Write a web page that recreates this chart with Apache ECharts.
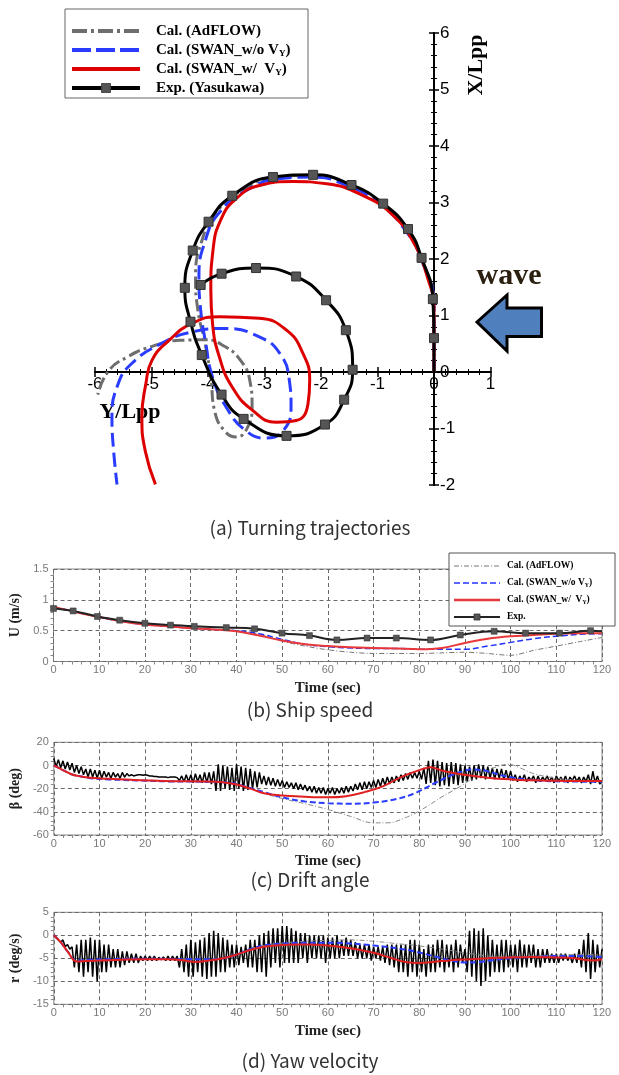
<!DOCTYPE html>
<html><head><meta charset="utf-8">
<script src="https://cdn.jsdelivr.net/npm/echarts/dist/echarts.min.js"></script>
<style>html,body{margin:0;padding:0;background:#fff}#c{width:619px;height:1075px}</style>
</head><body><div id="c"></div><script>
// ---------- DATA ----------
// Panel (a): trajectories [Y/Lpp, X/Lpp]
const trajExp = [[0,0],[0,0.6],[-0.02,1.29],[-0.22,2.02],[-0.46,2.53],[-0.90,2.98],[-1.46,3.31],[-2.14,3.49],[-2.85,3.45],[-3.57,3.12],[-3.99,2.66],[-4.27,2.15],[-4.41,1.49],[-4.31,0.89],[-4.11,0.30],[-3.76,-0.40],[-3.37,-0.83],[-2.61,-1.13],[-1.93,-0.93],[-1.59,-0.49],[-1.44,0.04],[-1.56,0.74],[-1.91,1.27],[-2.44,1.69],[-3.15,1.84],[-3.76,1.74],[-4.13,1.54]];
const trajSwanW = [[0,0],[0,1.10],[-0.12,1.69],[-0.36,2.29],[-0.71,2.76],[-1.19,3.09],[-1.90,3.33],[-2.50,3.37],[-3.09,3.30],[-3.51,3.06],[-3.77,2.70],[-3.91,2.17],[-3.95,1.46],[-3.92,0.86],[-3.80,0.27],[-3.57,-0.27],[-3.21,-0.68],[-2.79,-0.89],[-2.44,-0.86],[-2.23,-0.56],[-2.20,-0.15],[-2.32,0.33],[-2.61,0.74],[-3.09,0.95],[-3.80,0.98],[-4.28,0.86],[-4.69,0.56],[-4.99,0.21],[-5.10,-0.21],[-5.17,-0.80],[-5.11,-1.40],[-4.93,-1.99]];
const trajSwanWo = [[0,0],[0,1.16],[-0.21,1.96],[-0.48,2.47],[-0.95,2.97],[-1.54,3.30],[-2.14,3.45],[-2.73,3.42],[-3.33,3.21],[-3.80,2.82],[-4.04,2.35],[-4.16,1.69],[-4.13,1.10],[-4.04,0.51],[-3.92,-0.09],[-3.68,-0.62],[-3.33,-1.04],[-2.97,-1.17],[-2.67,-1.04],[-2.53,-0.62],[-2.56,-0.15],[-2.73,0.33],[-3.09,0.62],[-3.68,0.77],[-4.28,0.71],[-4.87,0.48],[-5.35,0.15],[-5.59,-0.21],[-5.70,-0.80],[-5.67,-1.40],[-5.61,-1.99]];
const trajAdflow = [[0,0],[0,1.2],[-0.22,1.98],[-0.48,2.5],[-0.95,3.0],[-1.54,3.34],[-2.14,3.48],[-2.75,3.45],[-3.38,3.23],[-3.86,2.82],[-4.10,2.35],[-4.22,1.69],[-4.18,1.10],[-4.05,0.50],[-3.95,-0.10],[-3.88,-0.70],[-3.70,-1.05],[-3.50,-1.15],[-3.30,-0.98],[-3.22,-0.60],[-3.26,-0.15],[-3.42,0.20],[-3.70,0.45],[-4.05,0.57],[-4.50,0.56],[-5.00,0.45],[-5.42,0.27],[-5.76,0.02],[-5.95,-0.40]];

// Panel (b): ship speed U [time, U]
const uExp = [[0,0.86],[4.3,0.82],[9.6,0.73],[14.5,0.67],[20,0.62],[25.6,0.59],[30.8,0.57],[37.8,0.55],[44,0.53],[50,0.46],[56,0.42],[62,0.35],[68.6,0.38],[75,0.38],[82.5,0.35],[89,0.43],[96.4,0.49],[103.3,0.46],[110.7,0.46],[117.5,0.5],[120,0.49]];
const uSwanW = [[0,0.89],[5,0.8],[10,0.72],[15,0.65],[20,0.6],[25,0.57],[30,0.54],[35,0.52],[40,0.49],[45,0.42],[50,0.34],[55,0.28],[60,0.25],[65,0.23],[70,0.22],[75,0.21],[80,0.2],[85,0.22],[90,0.3],[95,0.37],[100,0.41],[105,0.43],[110,0.45],[115,0.46],[120,0.46]];
const uSwanWo = [[0,0.89],[5,0.8],[10,0.72],[15,0.65],[20,0.6],[25,0.57],[30,0.54],[35,0.52],[40,0.5],[45,0.45],[50,0.36],[55,0.28],[60,0.24],[65,0.22],[70,0.21],[75,0.21],[80,0.2],[85,0.2],[90,0.2],[95,0.25],[100,0.31],[105,0.37],[110,0.41],[115,0.44],[120,0.45]];
const uAdflow = [[0,0.88],[5,0.8],[10,0.72],[15,0.65],[20,0.6],[25,0.57],[30,0.54],[35,0.52],[40,0.5],[45,0.44],[50,0.33],[55,0.25],[60,0.19],[65,0.15],[70,0.13],[75,0.13],[80,0.13],[85,0.14],[90,0.15],[95,0.13],[100,0.1],[105,0.18],[110,0.25],[115,0.32],[120,0.39]];

// Panel (c): drift angle beta
const EXP_DT = 0.5; // sampling step of the measured records (s)
const betaExp = [6,-1,5,-2,4,-3,3,-4,2,-6,0,-7,-1,-8,-3,-10,-3,-10,-4,-11,-4,
 -11,-5,-10,-6,-11,-6,-10,-7,-11,-6,-10,-7,-9,-8,
 -9,-8.5,-8,-8,-8.5,-8,-8.5,-9,-9,-9.5,-9.5,-10,-10,-10,-10,-10.5,-10,-10,-10,-10.5,
 -13,-9,-14,-8,-14,-8,-15,-7,-14,-8,-15,-6,-15,-6,-16,-5,
 -22,1,-22,0,-20,-1,-21,-2,-22,1,-20,-1,-22,-2,-21,-3,-20,-5,-19,-6,
 -16,-9,-17,-10,-17,-11,-18,-12,-18,-13,-19,-14,-19,-15,-20,-15,-21,-16,-21,-17,-22,-18,-23,-18,-24,-19,
 -24,-19,-25,-20,-24,-19,-25,-20,-24,-19,-24,-18,-23,-18,
 -22,-16,-21,-15,-21,-14,-20,-14,-19,-13,-19,-12,-18,-11,-17,-10,-16,-10,-15,-9,-14,-8,-13,-7,-12,-6,-11,-6,-11,-5,
 -12,-2,-16,4,-15,5,-17,4,-18,3,-17,2,-18,3,-16,2,-17,1,-15,0,-14,-1,-13,0,
 -12,1,-11,0,-12,-1,-11,-2,-12,-3,-11,-3,-12,-4,-12,-5,
 -13,-8,-14,-9,-13,-8,-14,-10,-13,-9,-15,-9,-14,-10,-13,-9,-14,-10,-15,-9,-13,-10,-14,-9,-15,-10,-13,-9,-14,-10,-15,-10,-14,-8,-16,-5,-15,-9,-16,-14];
const betaSwanW = [[0,0],[2,-4],[4,-7.8],[6,-9.5],[8,-10.5],[12,-11.5],[19,-12.8],[26,-13.6],[33,-13.8],[37,-14.5],[40,-16.5],[43,-20],[46,-24],[50,-26],[55,-27],[60,-27.5],[64,-26.5],[68,-23],[72,-18],[76,-10],[80,-4],[82.5,-1.5],[85,-4.5],[89,-7.5],[95,-10.5],[100,-12],[105,-12.8],[110,-13.2],[115,-13.5],[120,-13.5]];
const betaSwanWo = [[0,0],[2,-4],[4,-7.8],[6,-9.5],[8,-11],[12,-12],[19,-13],[26,-13.8],[33,-14],[37,-14.5],[40,-16],[43,-19.5],[46,-23],[50,-27.5],[55,-31],[60,-32.5],[65,-33],[70,-32],[75,-29],[79,-24],[83,-16],[87,-8.5],[90,-4.5],[92,-3.5],[95,-5],[98,-8.5],[102,-11.5],[106,-13],[112,-13.8],[120,-14]];
const betaAdflow = [[0,0],[2,-4],[4,-7.5],[6,-9.5],[8,-10.5],[12,-11.5],[19,-12.8],[26,-13.6],[33,-14],[37,-14.5],[40,-16],[43,-19.5],[46,-24],[50,-28.5],[55,-33],[60,-38],[65,-44],[70,-49.5],[73,-49.5],[77,-45],[81,-37],[85,-27],[89,-18],[93,-8],[97,-1],[99.5,1],[102,-2],[105,-7],[110,-11],[115,-13],[120,-13.5]];

// Panel (d): yaw velocity r
const rExp = [0,-0.5,-1,-1.5,-1,-2.5,-2,-3,-2.5,
 -7,-2,-8,-1,-9,-1,-8,-0.5,-9,-1,-10,-1,-8,-2,-8,-2,-7,-3,
 -7,-3,-7,-3.5,-6.5,-3.5,-6,-4,-6,-4,-6,-4.5,-5.5,-4.5,
 -5.5,-4.5,-5.5,-4.5,-5.5,-4.8,-5.3,-4.7,-5.5,-4.5,-5.5,-4.5,-5.5,-4.5,
 -7,-3,-8,-2,-9,-1,-9,-1.5,-8,-1,-9,-0.5,-9.5,0.5,-9,1,-9,0.5,-8,-0.5,-8,-1,
 -7,-2,-7,-2,-6.5,-2.5,-6,-2,-7,-1,-7,-1,-8,0,
 -8,0.5,-9,1,-7,1.5,-6,1.5,-7,2,-6,2,-6,1.5,-6,1,-6,0.5,-5,0.5,-6,0,-5,0,
 -5,0,-5,0,-6,-0.5,-5,-0.5,-5,0,-5,-1,-4.5,-0.5,-4.5,-1,
 -4.5,-1.5,-5,-2,-5,-2,-5,-2,-5.5,-2.5,-5,-2.5,-5.5,-2.5,-6,-2,-6.5,-2,-7,-2,
 -8,-2,-8,-2,-9,-1,-8,-1,-9,-2,-8,-3,-9,-2,-8,-2,-8,-1,-7,-1,-8,-2,-7,-2,-8,-1,-7,-2,-6,-3,
 -8,1,-9,1.5,-10,1,-11,1.5,-10,0,-9,-1,-8,-2,
 -8,-1,-8,-1,-7,-2,-7,-2,-8,-1,-7,-2,-7,-2,-6,-2,-7,-3,-7,-3,-6,-3,-6,-4,-6,-4,
 -6,-4,-5.5,-4,-5.5,-4.5,-6,-4,-6,-3,-7,-1,-8,0.5,-9.5,-1,-8,-2,-7,-3];
const rSwanW = [[0,0],[1.5,-1.5],[3,-3.5],[5,-5.7],[7,-5.6],[10,-5.5],[15,-5.3],[20,-5.2],[25,-5.2],[28,-5.4],[31,-5.8],[34,-5.5],[37,-5],[40,-4.2],[43,-3.2],[46,-2.5],[50,-2.1],[55,-2],[60,-2.2],[65,-2.8],[70,-3.8],[74,-5],[77,-5.8],[80,-6],[83,-5.8],[87,-5.4],[91,-5.2],[95,-5],[100,-4.8],[105,-4.7],[110,-4.8],[114,-5],[118,-5.5],[120,-5.2]];
const rSwanWo = [[0,0],[1.5,-1.5],[3,-3.5],[5,-5.5],[8,-5.3],[12,-5.2],[20,-5.1],[30,-5.2],[34,-5.2],[37,-5],[40,-4.2],[43,-3],[46,-2.2],[50,-1.8],[55,-1.6],[60,-1.6],[65,-1.8],[70,-2.2],[75,-2.8],[79,-3.5],[83,-4.5],[87,-5.5],[90,-5.9],[93,-5.8],[96,-5.4],[100,-5],[105,-4.7],[110,-4.5],[115,-4.5],[120,-4.8]];
const rAdflow = [[0,0],[1.5,-1.5],[3,-3.5],[5,-5.5],[10,-5.3],[20,-5.2],[30,-5.2],[37,-5],[40,-4.2],[43,-3],[46,-2.2],[50,-1.7],[55,-1.3],[60,-1.1],[65,-1],[70,-1.3],[75,-1.8],[80,-2.3],[85,-3],[90,-3.8],[95,-4.5],[100,-4.7],[105,-4.5],[110,-4.3],[115,-4.2],[120,-4.3]];

// Labels
const legendA = ['Cal. (AdFLOW)', 'Cal. (SWAN_w/o V{s|Y})', 'Cal. (SWAN_w/  V{s|Y})', 'Exp. (Yasukawa)'];
const legendB = ['Cal. (AdFLOW)', 'Cal. (SWAN_w/o V{s|Y})', 'Cal. (SWAN_w/  V{s|Y})', 'Exp.'];
const captions = ['(a) Turning trajectories', '(b) Ship speed', '(c) Drift angle', '(d) Yaw velocity'];

// ---------- CHART ----------
const SERIF = 'Liberation Serif';
const SANS = 'Liberation Sans';
const chart = echarts.init(document.getElementById('c'), null, {renderer: 'canvas'});

const GRAY = '#6e6e6e', BLUE = '#2a3cff', RED = '#dd0000', BLACK = '#000';
const DASH_A = {gray: [12, 4, 3, 4], blue: [14, 6]};

// panel (a) geometry: origin (434,372), 56.5 px per unit
const A = {left: 95, top: 33, width: 395.5, height: 452, x0: 434, y0: 372};

const hidden = {show: false};
function dummy(gi, isX) { return {type: 'value', gridIndex: gi, show: false, min: 0, max: 1, axisLine: {onZero: false}}; }
function visAxis(gi, isX, pos, showLabel) {
  return {type: 'value', gridIndex: gi, position: pos,
    min: isX ? -6 : -2, max: isX ? 1 : 6, interval: 1,
    axisLine: {show: true, onZero: false, lineStyle: {color: '#000', width: 2}},
    axisTick: {show: true, length: 5, lineStyle: {color: '#000', width: 1.5}},
    minorTick: {show: true, splitNumber: 5, length: 3, lineStyle: {color: '#000', width: 1}},
    splitLine: hidden,
    axisLabel: showLabel ? {show: true, color: '#000', fontFamily: SANS, fontSize: 17, margin: isX ? 4 : 6, inside: !isX} : hidden};
}

// grids: 0 data(a), 1-3 panels, 4 x-axis below zero line, 5 x-axis above, 6 y-axis left side, 7 y-axis right side
const grids = [{left: A.left, top: A.top, width: A.width, height: A.height, show: false}];
const panelGrids = [
  {left: 53.5, top: 569, width: 548.5, height: 92.5},
  {left: 53.5, top: 742.3, width: 548.5, height: 92.7},
  {left: 53.5, top: 912.3, width: 548.5, height: 92}
];
panelGrids.forEach(g => grids.push(Object.assign({show: true, borderColor: '#8a8a8a', borderWidth: 1}, g)));
grids.push({left: A.left, top: A.top, width: A.width, height: A.y0 - A.top, show: false});           // 4
grids.push({left: A.left, top: A.y0, width: A.width, height: A.top + A.height - A.y0, show: false}); // 5
grids.push({left: A.x0, top: A.top, width: A.left + A.width - A.x0, height: A.height, show: false}); // 6
grids.push({left: A.left, top: A.top, width: A.x0 - A.left, height: A.height, show: false});         // 7

const xAxes = [{type: 'value', gridIndex: 0, min: -6, max: 1, show: false, axisLine: {onZero: false}}];
const yAxes = [{type: 'value', gridIndex: 0, min: -2, max: 6, show: false, axisLine: {onZero: false}}];
const yRanges = [[0, 1.5, 0.5, 'U (m/s)'], [-60, 20, 20, 'β (deg)'], [-15, 5, 5, 'r (deg/s)']];
const dashed = {show: true, lineStyle: {color: '#6a6a6a', type: [4, 3], width: 1}};
for (let k = 0; k < 3; k++) {
  xAxes.push({type: 'value', gridIndex: k + 1, min: 0, max: 120, interval: 10,
    axisLine: {show: false, onZero: false}, axisTick: {show: false},
    minorTick: {show: true, splitNumber: 5, length: 3, lineStyle: {color: '#888'}},
    splitLine: dashed,
    axisLabel: {color: '#7a7a7a', fontFamily: SANS, fontSize: 11, margin: 3},
    name: 'Time (sec)', nameLocation: 'middle', nameGap: 19,
    nameTextStyle: {fontFamily: SERIF, fontWeight: 'bold', fontSize: 15, color: '#222'}});
  const yr = yRanges[k];
  yAxes.push({type: 'value', gridIndex: k + 1, min: yr[0], max: yr[1], interval: yr[2],
    axisLine: {show: false, onZero: false}, axisTick: {show: false},
    minorTick: {show: true, splitNumber: 5, length: 3, lineStyle: {color: '#888'}},
    splitLine: dashed,
    axisLabel: {color: '#7a7a7a', fontFamily: SANS, fontSize: 11, margin: 5},
    name: yr[3], nameLocation: 'middle', nameGap: 28, nameRotate: 90,
    nameTextStyle: {fontFamily: SERIF, fontWeight: 'bold', fontSize: 14, color: '#222'}});
}
// axis lines of panel (a), crossing at the origin
xAxes.push(visAxis(4, true, 'bottom', true));  yAxes.push(dummy(4));
xAxes.push(visAxis(5, true, 'top', false));    yAxes.push(dummy(5));
xAxes.push(dummy(6));                          yAxes.push(visAxis(6, false, 'left', true));
xAxes.push(dummy(7));                          yAxes.push(visAxis(7, false, 'right', false));

function ln(name, data, xi, color, width, type, smooth, extra) {
  return Object.assign({name, type: 'line', xAxisIndex: xi, yAxisIndex: xi, data,
    smooth: smooth, symbol: 'none', animation: false,
    lineStyle: {color, width, type}, itemStyle: {color}}, extra || {});
}

const series = [
  ln('a1', trajAdflow, 0, GRAY, 3, DASH_A.gray, 0.5),
  ln('a2', trajSwanWo, 0, BLUE, 3, DASH_A.blue, 0.5),
  ln('a3', trajSwanW, 0, RED, 3, 'solid', 0.5),
  ln('a4', trajExp.map((p, i) => i === 0 ? {value: p, symbol: 'none'} : p), 0, BLACK, 3, 'solid', 0.5,
    {symbol: 'rect', symbolSize: 9, showAllSymbol: true, itemStyle: {color: '#555', borderColor: '#333', borderWidth: 1}}),
  ln('b1', uAdflow, 1, '#777', 1, [5, 2, 1, 2], 0.3),
  ln('b2', uSwanWo, 1, '#2233ff', 1.5, [6, 3], 0.4),
  ln('b3', uSwanW, 1, '#e8383a', 2, 'solid', 0.4),
  ln('b4', uExp.map((p, i) => i === uExp.length - 1 ? {value: p, symbol: 'none'} : p), 1, '#222', 2, 'solid', 0.4,
    {symbol: 'rect', symbolSize: 6, showAllSymbol: true, itemStyle: {color: '#555', borderColor: '#333', borderWidth: 0.5}}),
  ln('c4', betaExp.map((v, i) => [i * EXP_DT, v]), 2, '#000', 1.5, 'solid', false),
  ln('c1', betaAdflow, 2, '#888', 1, [5, 2, 1, 2], 0.4),
  ln('c2', betaSwanWo, 2, '#2a3cff', 2, [6, 3], 0.4),
  ln('c3', betaSwanW, 2, '#e02020', 2, 'solid', 0.4),
  ln('d4', rExp.map((v, i) => [i * EXP_DT, v]), 3, '#000', 1.5, 'solid', false),
  ln('d1', rAdflow, 3, '#888', 1, [5, 2, 1, 2], 0.4),
  ln('d2', rSwanWo, 3, '#2a3cff', 2, [6, 3], 0.4),
  ln('d3', rSwanW, 3, '#e02020', 2, 'solid', 0.4)
];

// ---------- custom legends (graphic) ----------
function legendBox(cfg) {
  const els = [{type: 'rect', shape: {x: cfg.x, y: cfg.y, width: cfg.w, height: cfg.h},
    style: {fill: '#fff', stroke: cfg.border, lineWidth: 1}, z: 10}];
  cfg.labels.forEach((lab, i) => {
    const yy = cfg.rowY[i], st = cfg.styles[i];
    els.push({type: 'line', shape: {x1: cfg.lx1, y1: yy, x2: cfg.lx2, y2: yy},
      style: {stroke: st.c, lineWidth: st.w, lineDash: st.d || null}, z: 11});
    if (st.m) els.push({type: 'rect', shape: {x: (cfg.lx1 + cfg.lx2) / 2 - st.m / 2, y: yy - st.m / 2, width: st.m, height: st.m},
      style: {fill: '#555', stroke: '#333', lineWidth: 0.8}, z: 12});
    els.push({type: 'text', x: cfg.tx, y: yy, z: 12, style: {text: lab, fontFamily: SERIF, fontWeight: 'bold', fontSize: cfg.fs,
      fill: '#000', verticalAlign: 'middle', align: 'left',
      rich: {s: {fontFamily: SERIF, fontWeight: 'bold', fontSize: cfg.fs * 0.6, fill: '#000', padding: [cfg.fs * 0.55, 0, 0, 0]}}}});
  });
  return els;
}

const capStyle = {fontFamily: 'Noto Sans CJK KR', fontSize: 19, fill: '#333', align: 'center', verticalAlign: 'middle'};
const graphic = [
  {type: 'text', x: 310, y: 528, style: Object.assign({text: captions[0]}, capStyle)},
  {type: 'text', x: 310, y: 710, style: Object.assign({text: captions[1]}, capStyle)},
  {type: 'text', x: 310, y: 880, style: Object.assign({text: captions[2]}, capStyle)},
  {type: 'text', x: 310, y: 1061, style: Object.assign({text: captions[3]}, capStyle)},
  {type: 'text', x: 130, y: 412, style: {text: 'Y/Lpp', fontFamily: SERIF, fontWeight: 'bold', fontSize: 22, fill: '#000', align: 'center', verticalAlign: 'middle'}},
  {type: 'text', x: 476, y: 65, rotation: Math.PI / 2, style: {text: 'X/Lpp', fontFamily: SERIF, fontWeight: 'bold', fontSize: 22, fill: '#000', align: 'center', verticalAlign: 'middle'}},
  {type: 'text', x: 509, y: 276, style: {text: 'wave', fontFamily: SERIF, fontWeight: 'bold', fontSize: 30, fill: '#2b2010', align: 'center', verticalAlign: 'middle'}},
  {type: 'polygon', shape: {points: [[477, 322], [507, 295], [507, 308], [541.5, 308], [541.5, 336.5], [507, 336.5], [507, 351]]},
    style: {fill: '#4f80bd', stroke: '#000', lineWidth: 3, lineJoin: 'miter'}}
].concat(legendBox({x: 65, y: 9, w: 243, h: 89, border: '#666', lx1: 72, lx2: 140, tx: 156, fs: 15,
    rowY: [31, 50, 69, 88], labels: legendA,
    styles: [{c: GRAY, w: 4, d: [15, 4, 3, 4]}, {c: BLUE, w: 4, d: [19, 5]}, {c: RED, w: 4}, {c: BLACK, w: 4, m: 9}]}))
 .concat(legendBox({x: 449, y: 553, w: 166, h: 73, border: '#555', lx1: 454, lx2: 500, tx: 507, fs: 9.5,
    rowY: [566, 583, 600, 617], labels: legendB,
    styles: [{c: '#777', w: 1, d: [5, 2, 1, 2]}, {c: '#2233ff', w: 1.5, d: [6, 3]}, {c: '#e8383a', w: 2.5}, {c: '#222', w: 2, m: 6}]}));

chart.setOption({
  animation: false,
  grid: grids, xAxis: xAxes, yAxis: yAxes, series, graphic
});
</script></body></html>
